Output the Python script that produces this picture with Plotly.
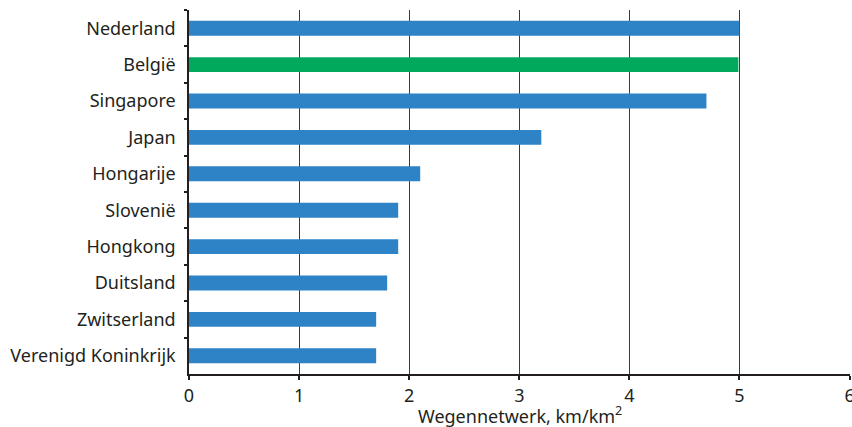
import plotly.graph_objects as go

# Road network density per country (km road per km² land area)
countries = [
    "Nederland", "België", "Singapore", "Japan", "Hongarije",
    "Slovenië", "Hongkong", "Duitsland", "Zwitserland", "Verenigd Koninkrijk",
]
density = [5.0, 4.99, 4.7, 3.2, 2.1, 1.9, 1.9, 1.8, 1.7, 1.7]
x_ticks = [0, 1, 2, 3, 4, 5, 6]
x_title = "Wegennetwerk, km/km<sup>2</sup>"

BLUE = "#2e82c6"
GREEN = "#00a95c"
bar_colors = [GREEN if c == "België" else BLUE for c in countries]

fig = go.Figure(
    go.Bar(
        x=density,
        y=countries,
        orientation="h",
        marker=dict(color=bar_colors, line=dict(width=0)),
        width=0.41,
        hoverinfo="x+y",
    )
)

fig.update_layout(
    width=852,
    height=427,
    margin=dict(l=189, r=2, t=10, b=53),
    paper_bgcolor="white",
    plot_bgcolor="white",
    font=dict(family="'Noto Sans', sans-serif", color="#231f20", size=18),
    showlegend=False,
)

# axis title placed just below the tick labels
fig.add_annotation(
    text=x_title,
    xref="paper", yref="paper",
    x=0.5, y=0,
    xanchor="center", yanchor="top",
    yshift=-26,
    showarrow=False,
    font=dict(size=18, color="#231f20"),
)

fig.update_xaxes(
    range=[0, 6.004],
    tickvals=x_ticks,
    ticktext=[str(v) for v in x_ticks],
    automargin=False,
    showgrid=True,
    gridcolor="#3a3a3a",
    gridwidth=1,
    zeroline=False,
    showline=True,
    linecolor="#231f20",
    linewidth=2,
    ticks="outside",
    ticklen=4,
    tickwidth=2,
    tickcolor="#231f20",
    tickfont=dict(size=18),
    ticklabeloverflow="allow",
)

fig.update_yaxes(
    categoryorder="array",
    categoryarray=countries,
    autorange="reversed",
    automargin=False,
    showgrid=False,
    zeroline=False,
    showline=True,
    linecolor="#231f20",
    linewidth=1.5,
    ticks="outside",
    tickson="boundaries",
    ticklen=3,
    tickwidth=1.5,
    tickcolor="#231f20",
    tickfont=dict(size=18),
    ticklabelstandoff=8,
)

fig.write_html("out.html")
